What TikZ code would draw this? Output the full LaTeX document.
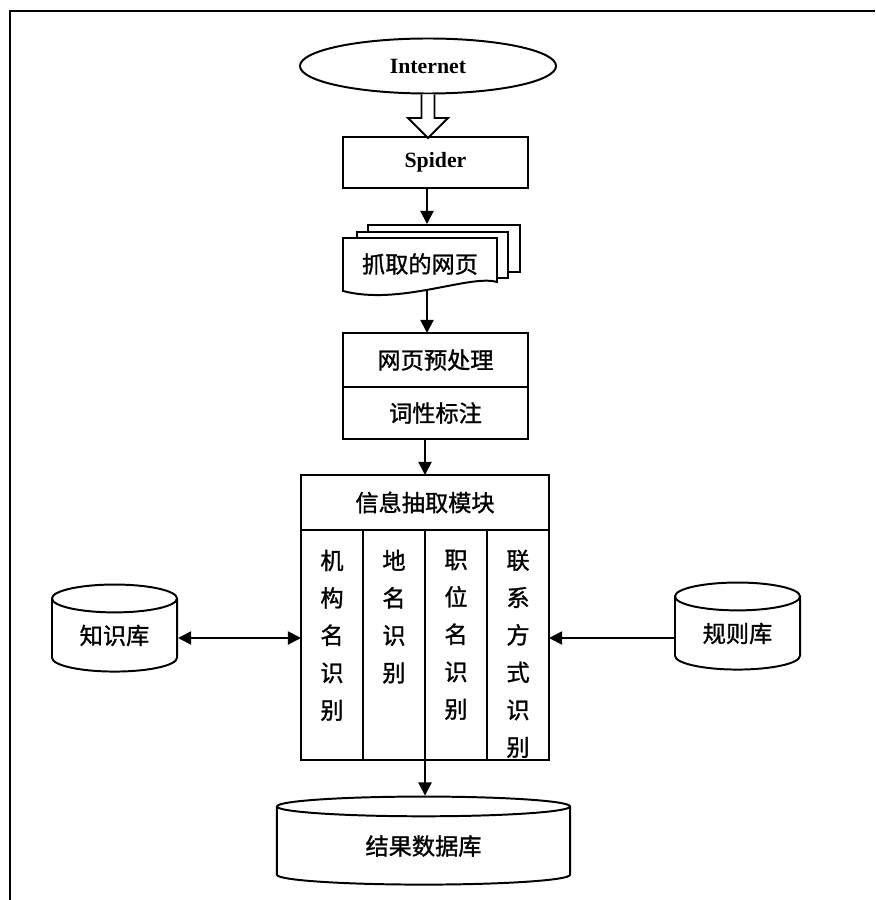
\documentclass[tikz,border=0pt]{standalone}
\usepackage{fontspec}
\setmainfont{Liberation Serif}
\newfontfamily\cjk[FakeBold=1.2]{Noto Sans CJK SC}
\usetikzlibrary{shapes.geometric,arrows.meta,positioning,calc}

\begin{document}
\begin{tikzpicture}[
    x=0.025cm, y=-0.025cm,
    line width=1.4pt,
    box/.style = {rectangle, draw, align=center, inner sep=0pt, outer sep=0pt, font=\cjk\fontsize{16.5}{26.6}\selectfont, minimum width=4.625cm},
    sheet/.style = {rectangle, draw, fill=white, inner sep=0pt},
    col/.style = {rectangle, draw, inner sep=0pt, outer sep=0pt, minimum width=1.55cm, minimum height=5.75cm},
    coltext/.style = {align=center, inner sep=0pt, font=\cjk\fontsize{16.5}{26.6}\selectfont},
    db/.style = {cylinder, shape border rotate=90, draw, inner sep=0pt, font=\cjk\fontsize{16.5}{20}\selectfont},
    arrow/.style = {-{Triangle[length=0.33cm,width=0.33cm]}},
    twoway/.style = {{Triangle[length=0.33cm,width=0.33cm]}-{Triangle[length=0.33cm,width=0.33cm]}}
]
\useasboundingbox (0,0) rectangle (875,900);

% frame
\draw[line width=2pt] (10,900) -- (10,11) -- (875,11);

\coordinate (axis) at (427,0);
\coordinate (side) at (0,638);

% source
\node[ellipse, draw, inner sep=0pt, minimum width=6.4cm, minimum height=1.375cm, font=\bfseries\fontsize{15.5}{20}\selectfont] (internet) at (428,66) {Internet};
\node[box, minimum height=1.275cm, font=\bfseries\fontsize{15.5}{20}\selectfont] (spider) at (435.5,162.5) {Spider};

% fetched pages
\node[sheet, minimum width=3.8cm, minimum height=1.175cm] (page3) at (444,248.5) {};
\node[sheet, minimum width=3.775cm, minimum height=1.15cm] (page2) at (432.5,255) {};
\draw[fill=white] (343,238) -- (497,238) -- (497,282) .. controls (470,274) and (400,306) .. (343,291) -- cycle;
\node[coltext, minimum width=3.85cm, minimum height=1.3cm] (pages) at (420,264) {抓取的网页};

% preprocessing
\node[box, minimum height=1.35cm] (prep) at (435.5,360) {网页预处理};
\node[box, minimum height=1.3cm, below=0pt of prep] (tag) {词性标注};

% extraction module
\node[box, minimum width=6.2cm, minimum height=1.375cm] (info) at (425,502.5) {信息抽取模块};
\node[col, anchor=north west] (col1) at (info.south west) {};
\node[col, right=0pt of col1] (col2) {};
\node[col, right=0pt of col2] (col3) {};
\node[col, right=0pt of col3] (col4) {};
\node[coltext, below=0.47cm of col1.north] (t1) {机\\构\\名\\识\\别};
\node[coltext, below=0.47cm of col2.north] (t2) {地\\名\\识\\别};
\node[coltext, below=0.47cm of col3.north] (t3) {职\\位\\名\\识\\别};
\node[coltext, below=0.47cm of col4.north] (t4) {联\\系\\方\\式\\识\\别};

% databases
\node[db, minimum width=3.125cm, minimum height=2.175cm, aspect=0.4] (kb) at (114.5,635.5) {知识库};
\node[db, minimum width=3.125cm, minimum height=2.175cm, aspect=0.4] (rules) at (737.5,633.5) {规则库};
\node[db, minimum width=7.325cm, minimum height=2.2cm, aspect=0.17] (result) at (423.5,846) {结果数据库};

% arrows
\draw[fill=white] (internet.south) ++(-6.5,0) -- ++(0,23.5) -- ++(-13.5,0) -- ++(20,20) -- ++(20,-20) -- ++(-13.5,0) -- ++(0,-23.5);
\draw[arrow] (spider.south -| axis) -- (page3.north -| axis);
\draw[arrow] (pages.south -| axis) -- (prep.north -| axis);
\draw[arrow] (tag.south -| info.north) -- (info.north);
\draw[twoway] (kb.east |- side) -- (col1.west |- side);
\draw[arrow] (rules.west |- side) -- (col4.east |- side);
\draw[arrow] (col3.south west) -- (col3.south west |- result.north);

\end{tikzpicture}
\end{document}
